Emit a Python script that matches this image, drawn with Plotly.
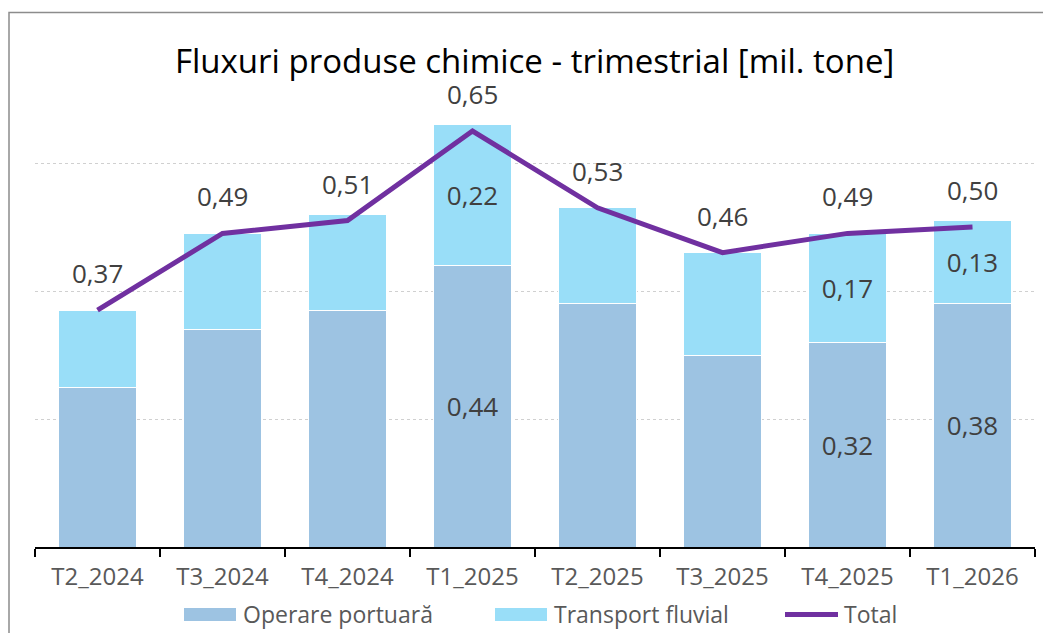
import plotly.graph_objects as go

categories = ["T2_2024", "T3_2024", "T4_2024", "T1_2025", "T2_2025", "T3_2025", "T4_2025", "T1_2026"]
operare = [0.25, 0.34, 0.37, 0.44, 0.38, 0.30, 0.32, 0.38]
transport = [0.12, 0.15, 0.15, 0.22, 0.15, 0.16, 0.17, 0.13]
total = [0.37, 0.49, 0.51, 0.65, 0.53, 0.46, 0.49, 0.50]
show_bar_label = [False, False, False, True, False, False, True, True]
series_names = ["Operare portuară", "Transport fluvial", "Total"]
title_text = "Fluxuri produse chimice - trimestrial [mil. tone]"

C_OP = "#9DC3E2"
C_TR = "#99DEF8"
C_TOT = "#7030A0"
FONT = "Open Sans"
LABEL_C = "#404040"
TICK_C = "#595959"

OFF = 8  # page body margin
W, H = 1051 - 2 * OFF, 641 - 2 * OFF
ML, MT = 35 - OFF, 35 - OFF
PW, PH = 1000, 512
MR, MB = W - ML - PW, H - MT - PH


def px(x):
    return (x - OFF - ML) / PW


def py(y):
    return (MT + PH - (y - OFF)) / PH


def fmt(v):
    return f"{v:.2f}".replace(".", ",")


fig = go.Figure()
fig.add_trace(go.Bar(
    x=categories, y=operare, name=series_names[0],
    marker=dict(color=C_OP, line=dict(color="white", width=1)),
    text=[fmt(v) if s else "" for v, s in zip(operare, show_bar_label)],
    textposition="inside", insidetextanchor="middle", textangle=0,
    constraintext="none",
    textfont=dict(family=FONT, size=26, color=LABEL_C),
    showlegend=False, hoverinfo="skip",
))
fig.add_trace(go.Bar(
    x=categories, y=transport, name=series_names[1],
    marker=dict(color=C_TR, line=dict(color="white", width=1)),
    text=[fmt(v) if s else "" for v, s in zip(transport, show_bar_label)],
    textposition="inside", insidetextanchor="middle", textangle=0,
    constraintext="none",
    textfont=dict(family=FONT, size=26, color=LABEL_C),
    showlegend=False, hoverinfo="skip",
))
fig.add_trace(go.Scatter(
    x=categories, y=total, name=series_names[2], mode="lines",
    line=dict(color=C_TOT, width=5),
    showlegend=False, hoverinfo="skip",
))

for c, v in zip(categories, total):
    fig.add_annotation(x=c, y=v, text=fmt(v), showarrow=False, yshift=37,
                       font=dict(family=FONT, size=26, color=LABEL_C))

# custom legend
shapes = []
shapes.append(dict(type="rect", xref="paper", yref="paper",
                   x0=px(184), x1=px(236), y0=py(621), y1=py(608),
                   fillcolor=C_OP, line=dict(width=0)))
shapes.append(dict(type="rect", xref="paper", yref="paper",
                   x0=px(495), x1=px(547), y0=py(621), y1=py(608),
                   fillcolor=C_TR, line=dict(width=0)))
shapes.append(dict(type="line", xref="paper", yref="paper",
                   x0=px(785), x1=px(838), y0=py(614.5), y1=py(614.5),
                   line=dict(color=C_TOT, width=5)))
# outer border
shapes.append(dict(type="rect", xref="paper", yref="paper",
                   x0=px(9), x1=px(1080), y0=py(680), y1=py(12.5),
                   line=dict(color="#8C8C8C", width=1.5), fillcolor="rgba(0,0,0,0)",
                   layer="below"))

for name, x in zip(series_names, [241, 552, 842]):
    fig.add_annotation(xref="paper", yref="paper", x=px(x), y=py(614),
                       xanchor="left", yanchor="middle", showarrow=False,
                       text=name, font=dict(family=FONT, size=23, color=TICK_C))

fig.add_annotation(xref="paper", yref="paper", x=px(534), y=py(60),
                   xanchor="center", yanchor="middle", showarrow=False,
                   text=title_text, font=dict(family=FONT, size=33, color="black"))

fig.update_layout(
    width=W, height=H,
    margin=dict(l=ML, r=MR, t=MT, b=MB),
    barmode="stack", bargap=0.37,
    plot_bgcolor="white", paper_bgcolor="white",
    shapes=shapes,
    xaxis=dict(
        showline=True, linecolor="black", linewidth=1.5,
        ticks="outside", ticklen=8, tickcolor="black", tickwidth=1.5,
        tickson="boundaries", showgrid=False,
        tickfont=dict(family=FONT, size=24, color=TICK_C),
        ticklabelstandoff=7,
    ),
    yaxis=dict(
        range=[0, 0.8], tickvals=[0.2, 0.4, 0.6, 0.8], showticklabels=False,
        showgrid=True, gridcolor="#D0D0D0", griddash="dot", gridwidth=1,
        zeroline=False, showline=False,
    ),
)

fig.write_html("out.html")
